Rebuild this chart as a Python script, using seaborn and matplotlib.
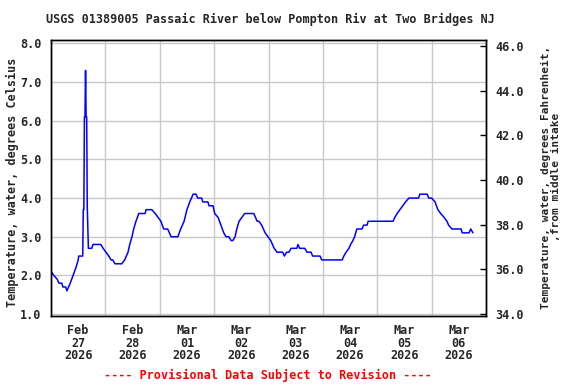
import matplotlib
matplotlib.use("Agg")
import matplotlib.pyplot as plt
import matplotlib.dates as mdates
import seaborn as sns
import pandas as pd

# hours since 2026-02-27 00:00 and water temperature (deg C)
hours = [0, 1.25, 2.75, 3.5, 4.75, 5.25, 6.5, 7, 8.5, 9.75, 11, 12, 12.25, 14,
         14.25, 14.5, 14.75, 15, 15.25, 15.5, 15.75, 16, 16.5, 18, 18.5, 22, 23,
         24.25, 25.5, 26.5, 27.25, 28.25, 31.25, 32.5, 34, 34.75, 35.75, 36.5,
         37.5, 38.75, 41.5, 42, 44.5, 46, 47.25, 48.5, 49.75, 51.5, 53, 56,
         57.25, 58.75, 60, 61.25, 62.75, 64, 64.75, 66.5, 67, 69.25, 69.75,
         71.5, 72.25, 73.75, 75, 76.25, 77.25, 78.5, 79.5, 80.25, 81.25, 82,
         83, 84.25, 85.5, 89.5, 91, 91.75, 93, 94.5, 95.75, 97, 98.5, 99.75,
         102.25, 103, 104, 105, 106, 108.5, 109, 109.75, 112, 113, 114.75,
         115.5, 118.75, 119.5, 128.5, 129.25, 130.25, 131.5, 132.25, 133.25,
         134, 135, 137.25, 138, 139.5, 140, 151, 151.75, 152.75, 154, 155.25,
         156.5, 158, 162.25, 162.75, 166, 166.75, 168, 169.5, 170.75, 172,
         173.5, 174.75, 175.5, 177, 181, 181.5, 184.5, 185.25, 186.25]
temps_c = [2.1, 2.0, 1.9, 1.8, 1.8, 1.7, 1.7, 1.6, 1.8, 2.0, 2.2, 2.4, 2.5, 2.5,
           3.7, 3.7, 6.1, 6.1, 7.3, 6.1, 6.1, 3.8, 2.7, 2.7, 2.8, 2.8, 2.7,
           2.6, 2.5, 2.4, 2.4, 2.3, 2.3, 2.4, 2.6, 2.8, 3.0, 3.2,
           3.4, 3.6, 3.6, 3.7, 3.7, 3.6, 3.5, 3.4, 3.2, 3.2, 3.0, 3.0,
           3.2, 3.4, 3.7, 3.9, 4.1, 4.1, 4.0, 4.0, 3.9, 3.9, 3.8,
           3.8, 3.6, 3.5, 3.3, 3.1, 3.0, 3.0, 2.9, 2.9, 3.0, 3.2,
           3.4, 3.5, 3.6, 3.6, 3.4, 3.4, 3.3, 3.1, 3.0, 2.9, 2.7, 2.6,
           2.6, 2.5, 2.6, 2.6, 2.7, 2.7, 2.8, 2.7, 2.7, 2.6, 2.6,
           2.5, 2.5, 2.4, 2.4, 2.5, 2.6, 2.7, 2.8, 2.9,
           3.0, 3.2, 3.2, 3.3, 3.3, 3.4, 3.4, 3.5, 3.6, 3.7, 3.8,
           3.9, 4.0, 4.0, 4.1, 4.1, 4.0, 4.0, 3.9, 3.7, 3.6,
           3.5, 3.4, 3.3, 3.2, 3.2, 3.1, 3.1, 3.2, 3.1]

left_ticks = [1.0, 2.0, 3.0, 4.0, 5.0, 6.0, 7.0, 8.0]
right_ticks = [34.0, 36.0, 38.0, 40.0, 42.0, 44.0, 46.0]

title = "USGS 01389005 Passaic River below Pompton Riv at Two Bridges NJ"
ylabel_left = "Temperature, water, degrees Celsius"
ylabel_right = "Temperature, water, degrees Fahrenheit,\n,from middle intake"
footer = "---- Provisional Data Subject to Revision ----"

sns.set_style("white")
plt.rcParams['font.family'] = ['DejaVu Sans Mono', 'DejaVu Sans']
plt.rcParams['font.weight'] = 'bold'
FS = 8.5

start = pd.Timestamp("2026-02-27 00:00")
df = pd.DataFrame({"time": start + pd.to_timedelta(hours, unit="h"),
                   "temp": temps_c})

fig = plt.figure(figsize=(5.76, 3.84), dpi=100)
ax = fig.add_axes([51/576, 1-316/384, (486-51)/576, (316-39.5)/384])

sns.lineplot(data=df, x="time", y="temp", ax=ax, color="#0000FF",
             linewidth=1.1, estimator=None, sort=False)

ax.set_xlim(start, start + pd.Timedelta(days=8))
ax.set_ylim(0.95, 8.1)
ax.set_yticks(left_ticks)
ax.set_yticklabels([f"{v:.1f}" for v in left_ticks], fontsize=FS, fontweight='bold')
ax.xaxis.set_major_locator(mdates.HourLocator(byhour=12))
ax.xaxis.set_major_formatter(mdates.DateFormatter("%b\n%d\n%Y"))
ax.xaxis.set_minor_locator(mdates.DayLocator())
for lab in ax.get_xticklabels():
    lab.set_fontsize(FS)
    lab.set_fontweight('bold')
    lab.set_linespacing(0.95)
ax.tick_params(axis='x', which='both', length=0, pad=6)
ax.tick_params(axis='y', length=0, pad=7)
ax.grid(False)
ax.grid(True, axis='x', which='minor', color='#C8C8C8', linewidth=1)
ax.grid(True, axis='y', which='major', color='#C8C8C8', linewidth=1)
ax.set_xlabel("")
ax.set_ylabel("")
for s in ax.spines.values():
    s.set_color('black')
    s.set_linewidth(1)
    s.set_visible(True)

ax2 = ax.twinx()
ax2.set_ylim(33.91, 46.29)
ax2.set_yticks(right_ticks)
ax2.set_yticklabels([f"{v:.1f}" for v in right_ticks], fontsize=FS, fontweight='bold')
ax2.tick_params(axis='y', direction='in', length=4, width=1, pad=7, color='black')
ax2.set_ylabel("")
ax2.grid(False)
for s in ax2.spines.values():
    s.set_color('black')
    s.set_linewidth(1)

fig.text(12/576, 1-182/384, ylabel_left, ha='center', va='center', rotation=90,
         fontsize=FS, fontweight='bold')
fig.text(551/576, 1-177/384, ylabel_right, ha='center', va='center', rotation=90,
         fontsize=8.0, fontweight='bold', linespacing=1.0, multialignment='center')
fig.text(270/576, 1-19/384, title, ha='center', va='center', fontsize=FS,
         fontweight='bold')
fig.text(267.5/576, 1-375/384, footer, ha='center', va='center', fontsize=FS,
         fontweight='bold', color='#FF0000')

fig.savefig("out.png", dpi=100)
